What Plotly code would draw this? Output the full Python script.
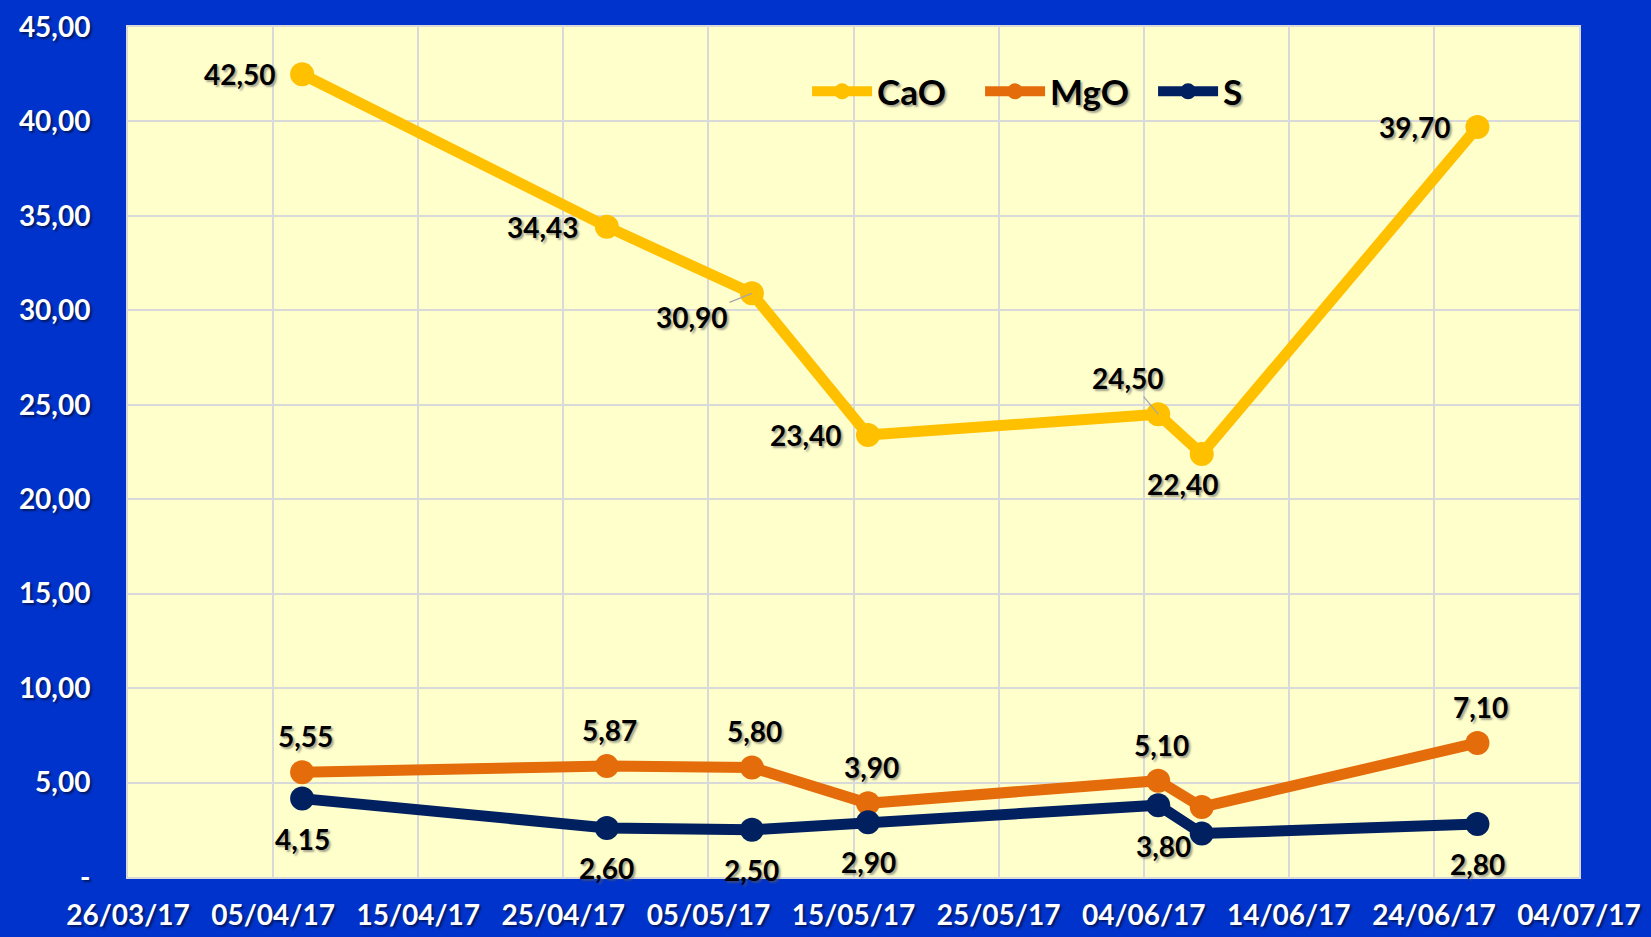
import plotly.graph_objects as go

# Sample dates and oxide / sulphur contents
dates = ["2017-04-07", "2017-04-28", "2017-05-08", "2017-05-16",
         "2017-06-05", "2017-06-08", "2017-06-27"]
cao = [42.50, 34.43, 30.90, 23.40, 24.50, 22.40, 39.70]
mgo = [5.55, 5.87, 5.80, 3.90, 5.10, 3.70, 7.10]
s_vals = [4.15, 2.60, 2.50, 2.90, 3.80, 2.30, 2.80]

# Which points carry a value label
cao_labeled = [True, True, True, True, True, True, True]
mgo_labeled = [True, True, True, True, True, False, True]
s_labeled = [True, True, True, True, True, False, True]

# Axis ticks
y_ticks = [0, 5, 10, 15, 20, 25, 30, 35, 40, 45]
y_tick_text = ["-", "5,00", "10,00", "15,00", "20,00", "25,00",
               "30,00", "35,00", "40,00", "45,00"]
x_start, x_end = "2017-03-26", "2017-07-04"

# Label placement (text-centre offset in px from the point; leader line flag)
cao_offsets = [(-62, 0, False), (-64, 0, False), (-60, 24, True), (-62, 0, False),
               (-30, -36, True), (-19, 30, False), (-62, 0, False)]
mgo_offsets = [(3, -36, False), (3, -36, False), (3, -36, False), (3, -36, False),
               (3, -36, False), (0, -36, False), (3, -36, False)]
s_offsets = [(0, 40, False), (0, 40, False), (0, 40, False), (0, 40, False),
             (5, 41, False), (0, 40, False), (0, 40, False)]

FONT = "Lato"
WEIGHT = "bold"
BLUE_BG = "#0033CC"
PLOT_BG = "#FFFFCC"
GRID = "#D9D9D9"

series = [
    ("CaO", cao, cao_labeled, cao_offsets, "#FFC000"),
    ("MgO", mgo, mgo_labeled, mgo_offsets, "#E46C0A"),
    ("S", s_vals, s_labeled, s_offsets, "#002060"),
]

fig = go.Figure()
annotations = []
label_font = dict(family=FONT, size=28, color="black", weight=WEIGHT,
                  shadow="2px 2px 2px rgba(90,90,90,0.55)")

for name, vals, labeled, offsets, color in series:
    fig.add_trace(go.Scatter(
        x=dates, y=vals, name=name, mode="lines+markers",
        line=dict(color=color, width=11),
        marker=dict(color=color, size=24),
    ))
    for d, v, show, (dx, dy, leader) in zip(dates, vals, labeled, offsets):
        if not show:
            continue
        txt = f"{v:.2f}".replace(".", ",")
        if leader:
            annotations.append(dict(
                x=d, y=v, xref="x", yref="y", text=txt, font=label_font,
                showarrow=True, arrowhead=0, arrowwidth=1.2,
                arrowcolor="#A6A6A6", ax=dx, ay=dy, standoff=0,
            ))
        else:
            annotations.append(dict(
                x=d, y=v, xref="x", yref="y", text=txt, font=label_font,
                showarrow=False, xshift=dx, yshift=-dy,
                xanchor="center", yanchor="middle",
            ))

tick_font = dict(family=FONT, size=28, color="white", weight=WEIGHT,
                 shadow="2px 2px 2px rgba(0,0,0,0.5)")

fig.update_layout(
    width=1651, height=937,
    paper_bgcolor=BLUE_BG, plot_bgcolor=PLOT_BG,
    margin=dict(l=128, r=72, t=27, b=60, autoexpand=False),
    separators=",.",
    showlegend=True,
    legend=dict(
        orientation="h", x=0.468, y=0.924, xanchor="left", yanchor="middle",
        bgcolor="rgba(0,0,0,0)",
        font=dict(family=FONT, size=35, color="black", weight=WEIGHT,
                  shadow="2px 2px 2px rgba(90,90,90,0.55)"),
        itemwidth=60, tracegroupgap=0,
        entrywidth=98, entrywidthmode="pixels",
    ),
    annotations=annotations,
    xaxis=dict(
        type="date", range=[x_start, x_end],
        tick0=x_start, dtick=10 * 86400000, tickformat="%d/%m/%y",
        showgrid=True, gridcolor=GRID, gridwidth=1.5,
        showline=True, linecolor=GRID, linewidth=2, mirror=True,
        ticks="", tickfont=tick_font, ticklabelstandoff=12,
        zeroline=False, automargin=False,
    ),
    yaxis=dict(
        range=[0, 45], tickvals=y_ticks, ticktext=y_tick_text,
        showgrid=True, gridcolor=GRID, gridwidth=1.5,
        showline=True, linecolor=GRID, linewidth=2, mirror=True,
        ticks="", tickfont=tick_font, ticklabelstandoff=30,
        zeroline=False, automargin=False,
    ),
)

fig.write_html("out.html")
